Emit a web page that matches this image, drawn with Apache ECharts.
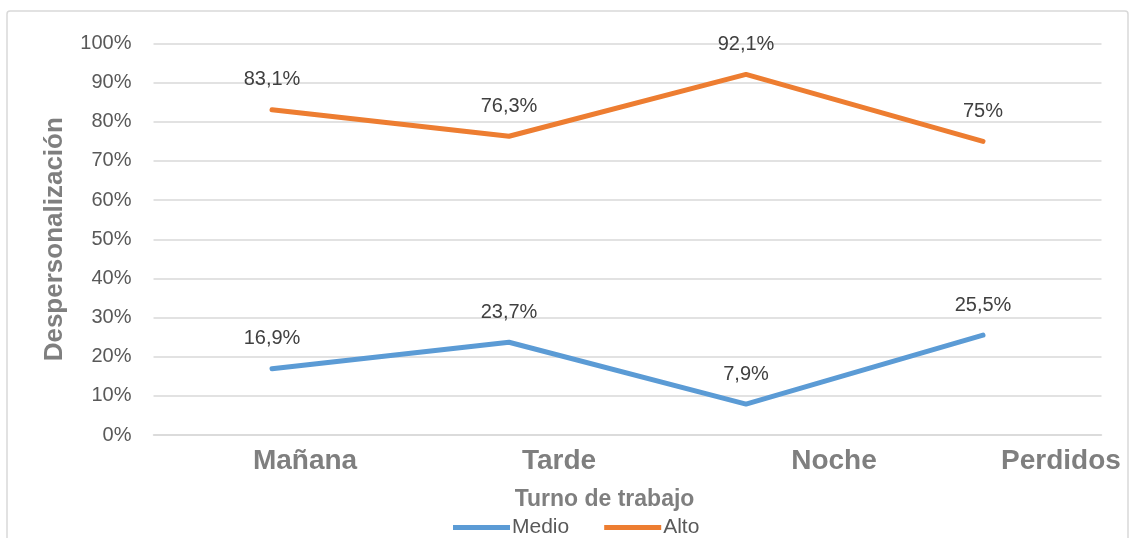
<!DOCTYPE html>
<html>
<head>
<meta charset="utf-8">
<script src="https://cdn.jsdelivr.net/npm/echarts@6/dist/echarts.min.js"></script>
<style>
html,body{margin:0;padding:0;background:#fff;}
#c{width:1131px;height:538px;}
</style>
</head>
<body>
<div id="c"></div>
<script>
var categories = ['Mañana', 'Tarde', 'Noche', 'Perdidos'];
var medio = [16.9, 23.7, 7.9, 25.5];
var alto = [83.1, 76.3, 92.1, 75];
var yTicks = [0, 10, 20, 30, 40, 50, 60, 70, 80, 90, 100];

var FONT = '"Liberation Sans", Arial, sans-serif';
var labelShift = [33, 50, 88, 78];

var chart = echarts.init(document.getElementById('c'), null, {renderer: 'canvas'});

function fmt(v) {
  return String(v).replace('.', ',') + '%';
}

var xData = categories.map(function (c, i) {
  return {value: c, textStyle: {padding: [0, 0, 0, labelShift[i] * 2]}};
});

var option = {
  backgroundColor: '#ffffff',
  animation: false,
  graphic: [{
    type: 'rect',
    shape: {x: 7, y: 11, width: 1121, height: 540, r: 3},
    style: {fill: 'none', stroke: '#d9d9d9', lineWidth: 1.5},
    silent: true,
    z: -10
  }],
  grid: {left: 153.5, right: 29.5, top: 43.5, bottom: 103, containLabel: false},
  legend: {
    left: 448,
    top: 512,
    data: ['Medio', 'Alto'],
    icon: 'rect',
    itemWidth: 57,
    itemHeight: 5,
    itemGap: 35,
    textStyle: {fontFamily: FONT, fontSize: 21, color: '#595959', padding: [0, 0, 0, -3]}
  },
  xAxis: {
    type: 'category',
    data: xData,
    boundaryGap: true,
    axisLine: {show: true, lineStyle: {color: '#d9d9d9', width: 1.5}},
    axisTick: {show: false},
    axisLabel: {
      fontFamily: FONT, fontSize: 28, fontWeight: 'bold', color: '#7f7f7f',
      margin: 12, interval: 0
    },
    name: 'Turno de trabajo',
    nameLocation: 'middle',
    nameGap: 53,
    nameTextStyle: {
      fontFamily: FONT, fontSize: 23, fontWeight: 'bold', color: '#7f7f7f',
      padding: [0, 46, 0, 0]
    }
  },
  yAxis: {
    type: 'value',
    min: yTicks[0],
    max: yTicks[yTicks.length - 1],
    interval: yTicks[1] - yTicks[0],
    axisLine: {show: false},
    axisTick: {show: false},
    splitLine: {show: true, lineStyle: {color: '#d9d9d9', width: 1.5}},
    axisLabel: {
      fontFamily: FONT, fontSize: 20, color: '#595959', margin: 22,
      formatter: function (v) { return v + '%'; }
    },
    name: 'Despersonalización',
    nameLocation: 'middle',
    nameRotate: 90,
    nameGap: 86,
    nameTextStyle: {fontFamily: FONT, fontSize: 26, fontWeight: 'bold', color: '#7f7f7f'}
  },
  series: [
    {
      name: 'Medio',
      type: 'line',
      data: medio,
      symbol: 'circle',
      symbolSize: 2,
      itemStyle: {color: '#5b9bd5'},
      lineStyle: {color: '#5b9bd5', width: 5, cap: 'round', join: 'round'},
      label: {
        show: true, position: 'top', distance: 19,
        fontFamily: FONT, fontSize: 20, color: '#404040',
        formatter: function (p) { return fmt(p.value); }
      }
    },
    {
      name: 'Alto',
      type: 'line',
      data: alto,
      symbol: 'circle',
      symbolSize: 2,
      itemStyle: {color: '#ed7d31'},
      lineStyle: {color: '#ed7d31', width: 5, cap: 'round', join: 'round'},
      label: {
        show: true, position: 'top', distance: 19,
        fontFamily: FONT, fontSize: 20, color: '#404040',
        formatter: function (p) { return fmt(p.value); }
      }
    }
  ]
};

chart.setOption(option);
</script>
</body>
</html>
